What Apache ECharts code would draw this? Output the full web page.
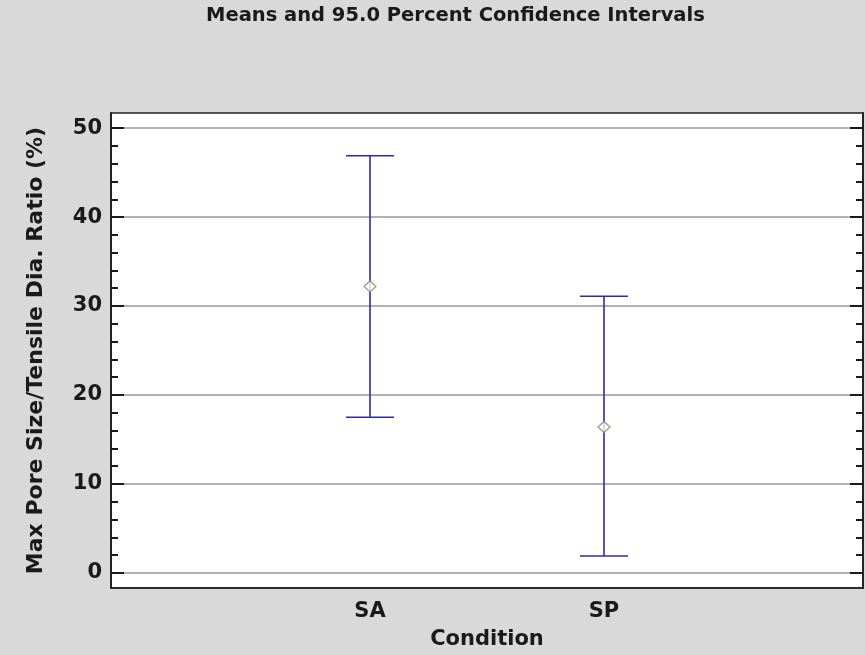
<!DOCTYPE html>
<html>
<head>
<meta charset="utf-8">
<script src="https://cdn.jsdelivr.net/npm/echarts@6/dist/echarts.min.js"></script>
<style>
  html, body { margin: 0; padding: 0; background: #d9d9d9; }
  #chart { width: 865px; height: 655px; }
</style>
</head>
<body>
<div id="chart"></div>
<script>
// Group labels and their positions on the x scale
const categories = ['SA', 'SP'];
const categoryPos = [1, 2];
// Means and 95% confidence limits
const means = [32.2, 16.4];
const lowerCI = [17.5, 1.9];
const upperCI = [46.9, 31.1];
// Y-axis ticks
const majorTicks = [0, 10, 20, 30, 40, 50];
const minorTicks = [2, 4, 6, 8, 12, 14, 16, 18, 22, 24, 26, 28, 32, 34, 36, 38, 42, 44, 46, 48];

const chart = echarts.init(document.getElementById('chart'), null, { renderer: 'canvas' });

const textColor = '#1a1a1a';
const fontFamily = '"DejaVu Sans", Verdana, sans-serif';
const yRange = { min: -1.7, max: 51.7 };

// Tick-only y axes laid over the plot edges
function tickAxis(position, ticks, len) {
  return {
    type: 'value',
    position: position,
    offset: 0,
    z: 5,
    min: yRange.min,
    max: yRange.max,
    axisLine: { show: true, onZero: false, lineStyle: { color: '#222', width: 1.5 } },
    axisTick: { show: true, inside: true, length: len, customValues: ticks, lineStyle: { color: '#1a1a1a', width: 2 } },
    axisLabel: { show: false },
    splitLine: { show: false }
  };
}

// Labelled y axis that also carries the gridlines
const yLeftMain = {
  type: 'value',
  position: 'left',
  offset: 0,
  min: yRange.min,
  max: yRange.max,
  axisLine: { show: true, onZero: false, lineStyle: { color: '#222', width: 1.5 } },
  axisTick: { show: false, customValues: majorTicks },
  axisLabel: {
    show: true, customValues: majorTicks, margin: 9,
    fontFamily: fontFamily, fontWeight: 'bold', fontSize: 21, color: textColor
  },
  splitLine: { show: true, lineStyle: { color: '#999', width: 1.5 } },
  name: 'Max Pore Size/Tensile Dia. Ratio (%)',
  nameLocation: 'middle',
  nameGap: 64,
  nameTextStyle: { fontFamily: fontFamily, fontWeight: 'bold', fontSize: 22, color: textColor }
};

const option = {
  backgroundColor: '#d9d9d9',
  animation: false,
  title: {
    text: 'Means and 95.0 Percent Confidence Intervals',
    left: 201, top: 1,
    textStyle: { fontFamily: fontFamily, fontWeight: 'bold', fontSize: 19.5, color: textColor }
  },
  grid: {
    left: 111, right: 2, top: 113, bottom: 67,
    show: true, backgroundColor: '#ffffff', borderColor: '#222', borderWidth: 1.5
  },
  xAxis: {
    type: 'value',
    min: -0.107, max: 3.107,
    axisLine: { show: true, onZero: false, lineStyle: { color: '#222', width: 1.5 } },
    axisTick: { show: false },
    splitLine: { show: false },
    axisLabel: {
      customValues: categoryPos, margin: 13,
      formatter: v => categories[categoryPos.indexOf(v)] || '',
      fontFamily: fontFamily, fontWeight: 'bold', fontSize: 21, color: textColor
    },
    name: 'Condition', nameLocation: 'middle', nameGap: 41,
    nameTextStyle: { fontFamily: fontFamily, fontWeight: 'bold', fontSize: 21, color: textColor }
  },
  yAxis: [
    yLeftMain,
    tickAxis('left', minorTicks, 7),
    tickAxis('right', majorTicks, 13),
    tickAxis('right', minorTicks, 7),
    tickAxis('left', majorTicks, 13)
  ],
  series: [
    {
      type: 'custom',
      name: 'CI',
      xAxisIndex: 0, yAxisIndex: 0,
      data: categoryPos.map((x, i) => [x, lowerCI[i], upperCI[i]]),
      encode: { x: 0, y: [1, 2] },
      renderItem: function (params, api) {
        const x = api.value(0);
        const lo = api.coord([x, api.value(1)]);
        const hi = api.coord([x, api.value(2)]);
        const half = 24;
        const style = { stroke: '#2a2ab5', lineWidth: 1.6 };
        return {
          type: 'group',
          children: [
            { type: 'line', shape: { x1: lo[0], y1: lo[1], x2: hi[0], y2: hi[1] }, style: style },
            { type: 'line', shape: { x1: hi[0] - half, y1: hi[1], x2: hi[0] + half, y2: hi[1] }, style: style },
            { type: 'line', shape: { x1: lo[0] - half, y1: lo[1], x2: lo[0] + half, y2: lo[1] }, style: style }
          ]
        };
      },
      z: 3
    },
    {
      type: 'scatter',
      name: 'Mean',
      xAxisIndex: 0, yAxisIndex: 0,
      data: categoryPos.map((x, i) => [x, means[i]]),
      symbol: 'diamond',
      symbolSize: [12, 11],
      itemStyle: { color: '#ffffff', borderColor: '#8a8a5c', borderWidth: 1.3 },
      z: 4
    }
  ]
};

chart.setOption(option);
</script>
</body>
</html>
